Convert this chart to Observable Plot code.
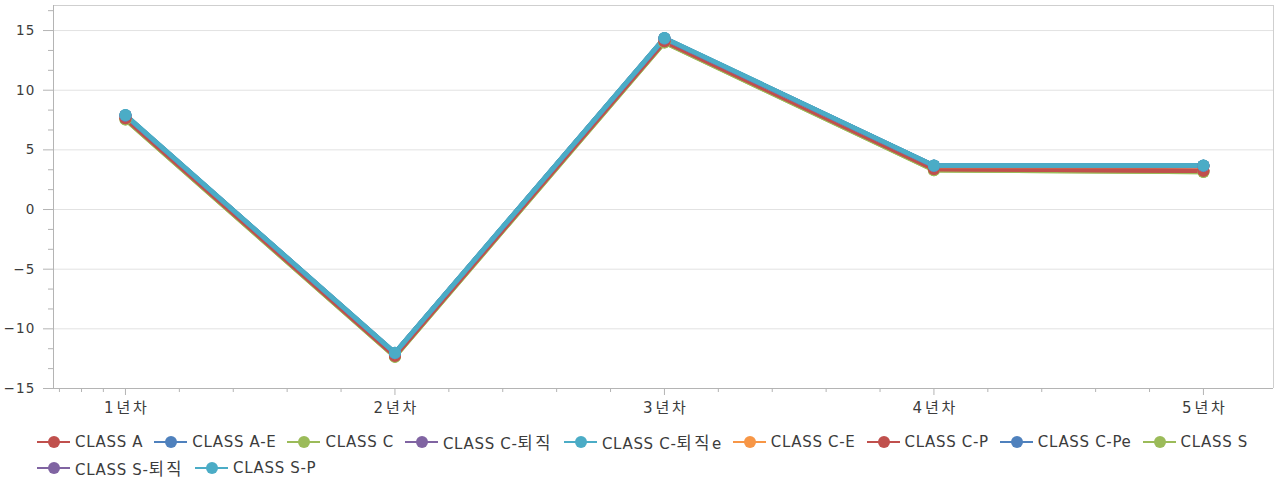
<!DOCTYPE html>
<html>
<head>
<meta charset="utf-8">
<script src="https://cdn.jsdelivr.net/npm/d3@7"></script>
<script src="https://cdn.jsdelivr.net/npm/@observablehq/plot@0.6"></script>
<style>
  html, body { margin: 0; padding: 0; background: #fff; }
  body { width: 1276px; height: 482px; overflow: hidden; font-family: "DejaVu Sans", "Noto Sans CJK KR", sans-serif; color: #3c3c3c; }
  #chart svg text { letter-spacing: 1.2px; }
  #chart svg g.xlab text { letter-spacing: 2.8px; }
  #legend { display: flex; flex-wrap: wrap; width: 1270px; padding-left: 37px; padding-top: 4px; box-sizing: border-box; font-size: 15px; letter-spacing: 0.68px; }
  .item { display: flex; align-items: center; height: 26px; margin-right: 11px; white-space: nowrap; }
  .ko { font-size: 16.5px; letter-spacing: 2.5px; }
  .sw { position: relative; width: 33px; height: 12px; margin-right: 5px; }
  .sw .ln { position: absolute; left: 0; right: 0; top: 5px; height: 2px; }
  .sw .dt { position: absolute; left: 11px; top: 0; width: 12px; height: 12px; border-radius: 50%; }
</style>
</head>
<body>
<div id="chart"></div>
<div id="legend"></div>
<script>
// ---- data ----
const categories = ["1년차", "2년차", "3년차", "4년차", "5년차"];
const seriesNames = ["CLASS A", "CLASS A-E", "CLASS C", "CLASS C-퇴직", "CLASS C-퇴직e", "CLASS C-E", "CLASS C-P", "CLASS C-Pe", "CLASS S", "CLASS S-퇴직", "CLASS S-P"];
const seriesColors = ["#c0504d", "#4f81bd", "#9bbb59", "#8064a2", "#4bacc6", "#f79646", "#c0504d", "#4f81bd", "#9bbb59", "#8064a2", "#4bacc6"];
const classA      = [7.64, -12.25, 14.1, 3.40, 3.25];
const classAE     = [7.88, -12.03, 14.34, 3.66, 3.66];
const classC      = [7.54, -12.35, 14.0, 3.30, 3.15];
const classCRet   = [7.89, -12.02, 14.35, 3.67, 3.67];
const classCRetE  = [7.92, -12.0, 14.38, 3.69, 3.70];
const classCE     = [7.87, -12.04, 14.33, 3.65, 3.65];
const classCP     = [7.64, -12.25, 14.1, 3.40, 3.25];
const classCPe    = [7.88, -12.03, 14.34, 3.66, 3.66];
const classS      = [7.54, -12.35, 14.0, 3.30, 3.15];
const classSRet   = [7.89, -12.02, 14.35, 3.67, 3.67];
const classSP     = [7.92, -12.0, 14.38, 3.69, 3.70];
const seriesValues = [classA, classAE, classC, classCRet, classCRetE, classCE, classCP, classCPe, classS, classSRet, classSP];
const yTicks = [-15, -10, -5, 0, 5, 10, 15];

// ---- build table ----
const rows = [];
seriesNames.forEach((name, s) => {
  seriesValues[s].forEach((v, i) => rows.push({series: name, idx: i + 1, value: v, color: seriesColors[s]}));
});
// draw lower series first so upper ones sit on top
const drawOrder = d3.sort(seriesNames.map((n, s) => ({n, s, m: d3.mean(seriesValues[s])})), (a, b) => a.m - b.m || a.s - b.s).map(d => d.n);
const data = drawOrder.flatMap(n => rows.filter(r => r.series === n));

const xMin = 0.733, xMax = 5.26, yMin = -15, yMax = 17.1;
const yMinor = d3.range(yMin, yMax, 5 / 3).filter(v => Math.abs(v / 5 - Math.round(v / 5)) > 1e-6);
const xMajor = categories.map((c, i) => i + 1);
const xMinor = [0.755, 0.837, 0.918, ...d3.range(1, 5, 0.2).filter(v => Math.abs(v - Math.round(v)) > 1e-6)];

const axisColor = "#b4b4b4";
const chart = Plot.plot({
  width: 1276,
  height: 425,
  marginLeft: 53,
  marginRight: 3,
  marginTop: 5,
  marginBottom: 37,
  x: {type: "linear", domain: [xMin, xMax]},
  y: {domain: [yMin, yMax]},
  color: {type: "identity"},
  style: {fontFamily: "'DejaVu Sans', 'Noto Sans CJK KR', sans-serif", fontSize: "13.5px", color: "#3c3c3c", background: "#fff"},
  marks: [
    Plot.ruleY(yTicks.filter(v => v > yMin), {stroke: "#e2e2e2", strokeWidth: 1}),
    Plot.ruleY([yMax], {stroke: "#cfcfcf"}),
    Plot.ruleX([xMax], {stroke: "#cfcfcf"}),
    Plot.ruleX([xMin], {stroke: axisColor}),
    Plot.ruleY([yMin], {stroke: axisColor}),
    Plot.axisY(yTicks, {tickSize: 10, tickPadding: 8, stroke: axisColor, label: null}),
    Plot.axisY(yMinor, {tickSize: 5, tickFormat: () => "", stroke: axisColor, label: null}),
    Plot.axisX(xMajor, {tickSize: 7, stroke: axisColor, tickFormat: () => "", label: null}),
    Plot.axisX(xMajor, {tickSize: 0, tickPadding: 14, tickFormat: i => categories[i - 1], fontSize: 15, label: null, dx: 1.4}),
    Plot.axisX(xMinor, {tickSize: 4, tickFormat: () => "", stroke: axisColor, label: null}),
    Plot.line(data, {x: "idx", y: "value", z: "series", stroke: "color", strokeWidth: 4.5, strokeLinejoin: "round"}),
    Plot.dot(data, {x: "idx", y: "value", fill: "color", r: 6})
  ]
});
document.getElementById("chart").appendChild(chart);
// tag the category label group for letter spacing
d3.select(chart).selectAll("g[aria-label='x-axis tick label']").filter(function() {
  return d3.select(this).selectAll("text").nodes().some(t => /년/.test(t.textContent));
}).classed("xlab", true);

// ---- legend ----
const legend = d3.select("#legend");
seriesNames.forEach((name, s) => {
  const it = legend.append("div").attr("class", "item");
  const sw = it.append("div").attr("class", "sw");
  sw.append("div").attr("class", "ln").style("background", seriesColors[s]);
  sw.append("div").attr("class", "dt").style("background", seriesColors[s]);
  const label = it.append("span");
  name.split(/([\uAC00-\uD7A3]+)/).filter(p => p).forEach(p => {
    label.append("span").attr("class", /[\uAC00-\uD7A3]/.test(p) ? "ko" : null).text(p);
  });
});
</script>
</body>
</html>
